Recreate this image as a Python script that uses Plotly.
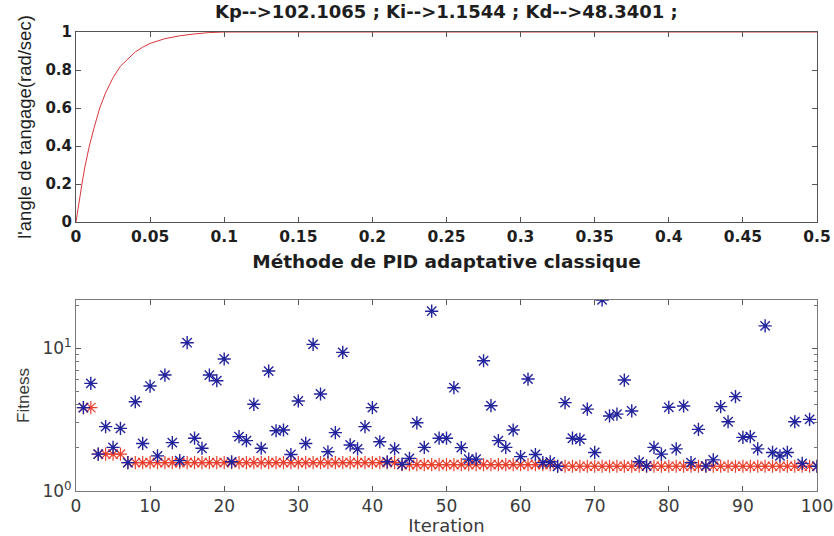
import plotly.graph_objects as go

# ---- Top plot: step response ----
time_s = [0, 0.002, 0.004, 0.006, 0.009, 0.012, 0.016, 0.02, 0.025, 0.03, 0.035,
          0.04, 0.045, 0.05, 0.06, 0.07, 0.08, 0.09, 0.1, 0.15, 0.2, 0.3, 0.4, 0.5]
angle = [0, 0.11, 0.2, 0.29, 0.4, 0.49, 0.6, 0.68, 0.76, 0.82, 0.86,
         0.895, 0.92, 0.94, 0.965, 0.98, 0.99, 0.997, 1.0, 1.0, 1.0, 1.0, 1.0, 1.0]

# ---- Bottom plot: fitness per iteration ----
iterations = list(range(1, 101))
fitness = [3.83, 5.66, 1.81, 2.82, 2.02, 2.74, 1.58, 4.21, 2.15, 5.42,
           1.76, 6.47, 2.18, 1.63, 10.9, 2.34, 1.99, 6.47, 5.91, 8.38,
           1.60, 2.40, 2.25, 4.04, 1.99, 6.90, 2.64, 2.67, 1.80, 4.26,
           2.15, 10.6, 4.77, 1.88, 2.56, 9.33, 2.10, 1.97, 2.82, 3.83,
           2.21, 1.60, 1.97, 1.54, 1.69, 3.00, 2.02, 18.1, 2.34, 2.34,
           5.28, 2.01, 1.67, 1.67, 8.15, 3.95, 2.25, 2.02, 2.67, 1.74,
           6.07, 1.80, 1.58, 1.60, 1.49, 4.15, 2.34, 2.30, 3.74, 1.86,
           21.7, 3.35, 3.45, 5.97, 3.63, 1.60, 1.50, 2.02, 1.81, 3.85,
           1.97, 3.93, 1.58, 2.70, 1.50, 1.65, 3.89, 3.05, 4.57, 2.37,
           2.40, 1.97, 14.3, 1.86, 1.76, 1.86, 3.05, 1.56, 3.17, 1.49]
best_fitness = ([3.83, 3.83] + [1.81] * 4 + [1.58] * 37 + [1.53] * 21 + [1.49] * 36)

title_text = "Kp-->102.1065 ; Ki-->1.1544 ; Kd-->48.3401 ;"
x_ticks_top = [0, 0.05, 0.1, 0.15, 0.2, 0.25, 0.3, 0.35, 0.4, 0.45, 0.5]
y_ticks_top = [0, 0.2, 0.4, 0.6, 0.8, 1]
x_ticks_bot = [0, 10, 20, 30, 40, 50, 60, 70, 80, 90, 100]
y_ticks_bot = [1, 10]
y_ticktext_bot = ["10<sup>0</sup>", "10<sup>1</sup>"]
y_minor_bot = [2, 3, 4, 5, 6, 7, 8, 9, 20]

WIDE = "DejaVu Sans, Verdana, sans-serif"
NARROW = "Liberation Sans, Arial, sans-serif"
W, H = 834, 536

fig = go.Figure()
fig.add_trace(go.Scatter(x=time_s, y=angle, mode="lines",
                         line=dict(color="#d8363a", width=1),
                         xaxis="x", yaxis="y", showlegend=False))
fig.add_trace(go.Scatter(x=iterations, y=best_fitness, mode="markers",
                         marker=dict(symbol="asterisk-open", size=11, color="#e8402e",
                                     line=dict(color="#e8402e", width=1.2)),
                         xaxis="x2", yaxis="y2", showlegend=False))
fig.add_trace(go.Scatter(x=iterations, y=fitness, mode="markers",
                         marker=dict(symbol="asterisk-open", size=11, color="#23239c",
                                     line=dict(color="#23239c", width=1.4)),
                         xaxis="x2", yaxis="y2", showlegend=False))

xd = [76 / W, 817 / W]
top_dom = [1 - 222 / H, 1 - 32 / H]
bot_dom = [1 - 491 / H, 1 - 300 / H]

axis_common = dict(showgrid=False, zeroline=False, showline=True, mirror="ticks",
                   ticks="inside", ticklen=5, linewidth=1, automargin=False)

fig.update_layout(
    width=W, height=H,
    margin=dict(l=0, r=0, t=0, b=0, autoexpand=False),
    paper_bgcolor="white", plot_bgcolor="white",
    font=dict(family=WIDE, color="#1e1e1e"),
    xaxis=dict(domain=xd, anchor="y", range=[0, 0.5], tickvals=x_ticks_top,
               ticktext=[f"{v:g}" for v in x_ticks_top],
               linecolor="#555555", tickcolor="#555555",
               tickfont=dict(size=15.5, family=WIDE, color="#1e1e1e", weight="bold"),
               title=dict(text="<b>Méthode de PID adaptative classique</b>",
                          font=dict(size=18.5, family=WIDE, color="#1e1e1e"), standoff=10),
               **axis_common),
    yaxis=dict(domain=top_dom, anchor="x", range=[0, 1], tickvals=y_ticks_top,
               ticktext=[f"{v:g}" for v in y_ticks_top],
               linecolor="#555555", tickcolor="#555555",
               tickfont=dict(size=15, family=WIDE, color="#1e1e1e", weight="bold"),
               title=dict(text="l'angle de tangage(rad/sec)",
                          font=dict(size=18.5, family=NARROW, color="#1e1e1e"), standoff=8),
               **axis_common),
    xaxis2=dict(domain=xd, anchor="y2", range=[0, 100], tickvals=x_ticks_bot,
                linecolor="#7a7a7a", tickcolor="#555555",
                tickfont=dict(size=17, family=WIDE, color="#3a3a3a"),
                title=dict(text="Iteration", font=dict(size=18, family=WIDE, color="#3a3a3a"),
                           standoff=0),
                **axis_common),
    yaxis2=dict(domain=bot_dom, anchor="x2", type="log", range=[0, 1.336],
                tickvals=y_ticks_bot, ticktext=y_ticktext_bot,
                linecolor="#7a7a7a", tickcolor="#555555",
                tickfont=dict(size=17, family=WIDE, color="#3a3a3a"),
                minor=dict(ticks="inside", ticklen=3, tickvals=y_minor_bot,
                           tickcolor="#777777", showgrid=False),
                title=dict(text="Fitness", font=dict(size=17, family=NARROW, color="#3a3a3a"),
                           standoff=8),
                **axis_common),
    annotations=[dict(text="<b>" + title_text + "</b>", xref="paper", yref="paper",
                      x=(xd[0] + xd[1]) / 2, y=1 - 12 / H, xanchor="center",
                      yanchor="middle", showarrow=False,
                      font=dict(size=18, family=WIDE, color="#1e1e1e"))],
)

fig.write_html("out.html")
